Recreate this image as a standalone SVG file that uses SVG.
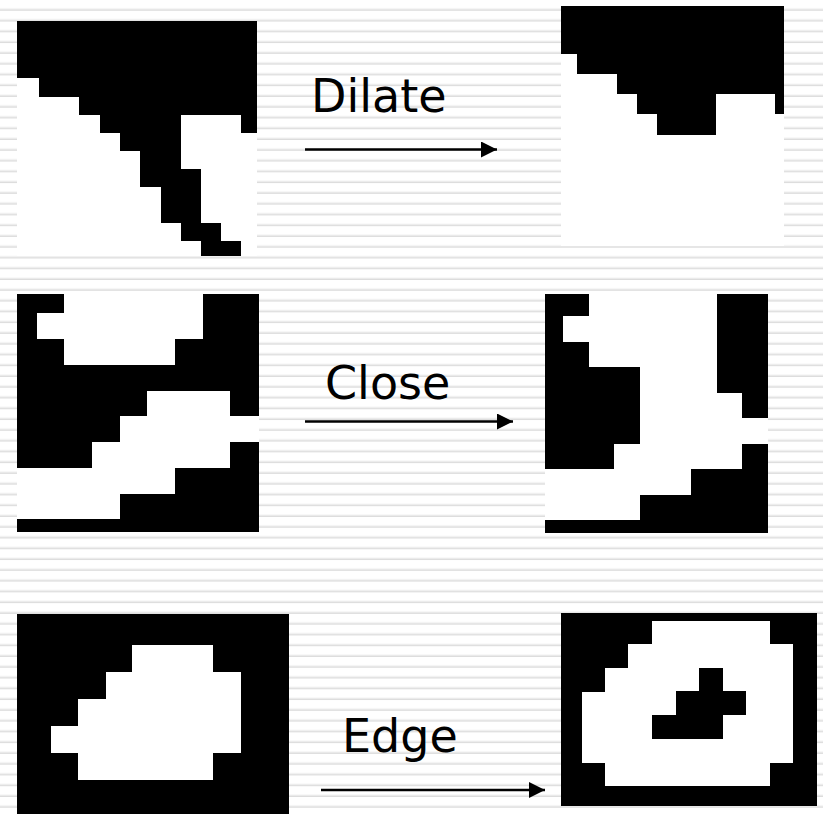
<svg xmlns="http://www.w3.org/2000/svg" width="823" height="814" viewBox="0 0 823 814">
<defs>
<pattern id="stripes" x="0" y="0" width="823" height="10.77" patternUnits="userSpaceOnUse">
<rect x="0" y="0" width="823" height="10.77" fill="#ffffff"/>
<rect x="0" y="8.5" width="823" height="1" fill="#ebebeb"/>
<rect x="0" y="9.5" width="823" height="1.6" fill="#dcdcdc"/>
<rect x="0" y="11.1" width="823" height="0.6" fill="#ececec"/>
</pattern>
<marker id="arrow" viewBox="0 0 16 16" refX="16" refY="8" markerWidth="16" markerHeight="16" markerUnits="userSpaceOnUse" orient="auto">
<path d="M0,0 L16,8 L0,16 Z" fill="#000"/>
</marker>
<style>
.blk{fill:#000}
.wht{fill:#fff}
.lbl{font-family:"DejaVu Sans","Verdana",sans-serif;font-size:46px;fill:#000}
.arr{stroke:#000;stroke-width:2.5;fill:none}
</style>
</defs>
<rect x="0" y="0" width="823" height="814" fill="url(#stripes)"/>

<g id="dilate-input">
<rect class="wht" x="17" y="21" width="240" height="235"/>
<polygon class="blk" points="17,21 257,21 257,133 241,133 241,115 181,115 181,169 201,169 201,223 221,223 221,241 241,241 241,256 201,256 201,241 181,241 181,223 161,223 161,187 140,187 140,151 120,151 120,133 100,133 100,115 79,115 79,97 39,97 39,78 17,78"/>
</g>

<g id="dilate-output">
<rect class="wht" x="561" y="6" width="223" height="240"/>
<polygon class="blk" points="561,6 784,6 784,114 775,114 775,94 716,94 716,135 657,135 657,114 637,114 637,94 617,94 617,74 577,74 577,54 561,54"/>
</g>

<g id="close-input">
<rect class="blk" x="17" y="294" width="242" height="238"/>
<polygon class="wht" points="64,294 203,294 203,339 175,339 175,365 64,365 64,339 37,339 37,313 64,313"/>
<polygon class="wht" points="147,391 230,391 230,416 259,416 259,442 230,442 230,468 175,468 175,494 120,494 120,519 17,519 17,468 92,468 92,442 120,442 120,416 147,416"/>
</g>

<g id="close-output">
<rect class="wht" x="545" y="294" width="223" height="239"/>
<polygon class="blk" points="545,294 589,294 589,316 563,316 563,342 589,342 589,367 640,367 640,444 614,444 614,469 545,469"/>
<polygon class="blk" points="717,294 768,294 768,418 742,418 742,393 717,393"/>
<polygon class="blk" points="742,444 768,444 768,533 545,533 545,520 640,520 640,495 691,495 691,469 742,469"/>
</g>

<g id="edge-input">
<rect class="blk" x="17" y="614" width="272" height="200"/>
<polygon class="wht" points="132,645 213,645 213,672 241,672 241,753 213,753 213,780 78,780 78,753 51,753 51,726 78,726 78,699 106,699 106,672 132,672"/>
</g>

<g id="edge-output">
<rect class="blk" x="561" y="613" width="256" height="193"/>
<polygon class="wht" points="652,621 770,621 770,644 793,644 793,763 770,763 770,786 605,786 605,763 582,763 582,692 605,692 605,668 628,668 628,644 652,644"/>
<polygon class="blk" points="699,668 723,668 723,691 746,691 746,715 723,715 723,739 652,739 652,715 676,715 676,691 699,691"/>
</g>

<g id="labels">
<text class="lbl" x="311" y="112">Dilate</text>
<text class="lbl" x="325" y="399">Close</text>
<text class="lbl" x="342" y="752">Edge</text>
</g>

<g id="connectors">
<line class="arr" x1="305" y1="149.5" x2="497" y2="149.5" marker-end="url(#arrow)"/>
<line class="arr" x1="305" y1="421.5" x2="513" y2="421.5" marker-end="url(#arrow)"/>
<line class="arr" x1="321" y1="790" x2="545" y2="790" marker-end="url(#arrow)"/>
</g>
</svg>
